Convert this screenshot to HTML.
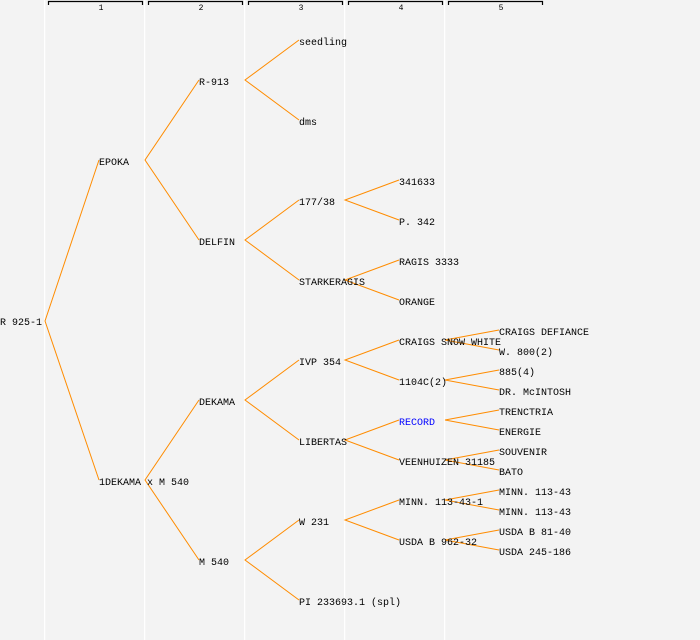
<!DOCTYPE html>
<html><head><meta charset="utf-8"><style>
html,body{margin:0;padding:0;background:#f3f3f3;}
svg{display:block;}
text{font-family:"Liberation Mono","DejaVu Sans Mono",monospace;font-size:10px;fill:#000;}
</style></head><body>
<svg width="700" height="640" xmlns="http://www.w3.org/2000/svg">
<rect width="700" height="640" fill="#f3f3f3"/>
<g fill="#ffffff">
<rect x="44" y="0" width="1.2" height="640"/>
<rect x="144" y="0" width="1.2" height="640"/>
<rect x="244" y="0" width="1.2" height="640"/>
<rect x="344" y="0" width="1.2" height="640"/>
<rect x="444" y="0" width="1.2" height="640"/>
</g>
<g stroke="#000" stroke-width="1.2" fill="none">
<path d="M48.5 5V1.5H142.5V5"/>
<path d="M148.5 5V1.5H242.5V5"/>
<path d="M248.5 5V1.5H342.5V5"/>
<path d="M348.5 5V1.5H442.5V5"/>
<path d="M448.5 5V1.5H542.5V5"/>
</g>
<g text-anchor="middle">
<text x="101" y="10" style="font-size:8px">1</text>
<text x="201" y="10" style="font-size:8px">2</text>
<text x="301" y="10" style="font-size:8px">3</text>
<text x="401" y="10" style="font-size:8px">4</text>
<text x="501" y="10" style="font-size:8px">5</text>
</g>
<g stroke="#ff8c00" stroke-width="1" fill="none">
<path d="M99 160L45 321L99 480"/>
<path d="M199 80L145 160L199 240"/>
<path d="M199 400L145 480L199 560"/>
<path d="M299 40L245 80L299 120"/>
<path d="M299 200L245 240L299 280"/>
<path d="M299 360L245 400L299 440"/>
<path d="M299 520L245 560L299 600"/>
<path d="M399 180L345 200L399 220"/>
<path d="M399 260L345 280L399 300"/>
<path d="M399 340L345 360L399 380"/>
<path d="M399 420L345 440L399 460"/>
<path d="M399 500L345 520L399 540"/>
<path d="M499 330L445 340L499 350"/>
<path d="M499 370L445 380L499 390"/>
<path d="M499 410L445 420L499 430"/>
<path d="M499 450L445 460L499 470"/>
<path d="M499 490L445 500L499 510"/>
<path d="M499 530L445 540L499 550"/>
</g>
<g>
<text x="0" y="325">R 925-1</text>
<text x="99" y="165">EPOKA</text>
<text x="99" y="485">1DEKAMA x M 540</text>
<text x="199" y="85">R-913</text>
<text x="199" y="245">DELFIN</text>
<text x="199" y="405">DEKAMA</text>
<text x="199" y="565">M 540</text>
<text x="299" y="45">seedling</text>
<text x="299" y="125">dms</text>
<text x="299" y="205">177/38</text>
<text x="299" y="285">STARKERAGIS</text>
<text x="299" y="365">IVP 354</text>
<text x="299" y="445">LIBERTAS</text>
<text x="299" y="525">W 231</text>
<text x="299" y="605">PI 233693.1 (spl)</text>
<text x="399" y="185">341633</text>
<text x="399" y="225">P. 342</text>
<text x="399" y="265">RAGIS 3333</text>
<text x="399" y="305">ORANGE</text>
<text x="399" y="345">CRAIGS SNOW WHITE</text>
<text x="399" y="385">1104C(2)</text>
<text x="399" y="425" style="fill:#0000ff">RECORD</text>
<text x="399" y="465">VEENHUIZEN 31185</text>
<text x="399" y="505">MINN. 113-43-1</text>
<text x="399" y="545">USDA B 962-32</text>
<text x="499" y="335">CRAIGS DEFIANCE</text>
<text x="499" y="355">W. 800(2)</text>
<text x="499" y="375">885(4)</text>
<text x="499" y="395">DR. McINTOSH</text>
<text x="499" y="415">TRENCTRIA</text>
<text x="499" y="435">ENERGIE</text>
<text x="499" y="455">SOUVENIR</text>
<text x="499" y="475">BATO</text>
<text x="499" y="495">MINN. 113-43</text>
<text x="499" y="515">MINN. 113-43</text>
<text x="499" y="535">USDA B 81-40</text>
<text x="499" y="555">USDA 245-186</text>
</g>
</svg>
</body></html>
